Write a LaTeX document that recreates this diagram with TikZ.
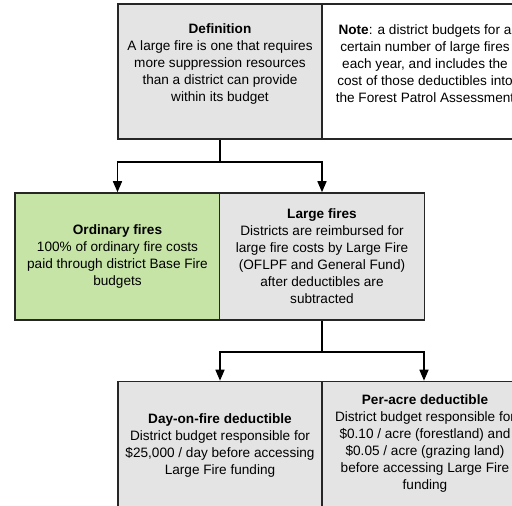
\documentclass[tikz,border=0pt]{standalone}
\usepackage{fontspec}
\setmainfont{Liberation Sans}
\usetikzlibrary{arrows.meta}

\definecolor{boxgray}{RGB}{228,228,228}
\definecolor{boxgreen}{RGB}{197,228,166}

\begin{document}
\begin{tikzpicture}[x=1pt,y=-1pt,
    box/.style={draw=black!85,line width=1.6pt,minimum width=204pt,minimum height=127pt,inner sep=0pt},
    txt/.style={align=center,font=\fontsize{13.6}{17}\selectfont,inner sep=0pt},
    conn/.style={line width=1.6pt,-{Triangle[width=9pt,length=11pt]}}]
  \useasboundingbox (0,0) rectangle (512,506);
  \clip (0,0) rectangle (512,506);

  % top row
  \node[box,fill=boxgray,minimum height=135pt] (def) at (220,71.5) {};
  \node[box,fill=white,minimum height=135pt] (note) at (424,71.5) {};
  \node[txt] (deftxt) at (220,64) {\textbf{Definition}\\A large fire is one that requires\\more suppression resources\\than a district can provide\\within its budget};
  \node[txt] (notetxt) at (425,64) {\textbf{Note}: a district budgets for a\\certain number of large fires\\each year, and includes the\\cost of those deductibles into\\the Forest Patrol Assessment};

  % middle row
  \node[box,fill=boxgreen,minimum width=205pt] (ord) at (117.5,256.5) {};
  \node[box,fill=boxgray,minimum width=205pt] (large) at (322,256.5) {};
  \node[txt] (ordtxt) at (ord.center) {\textbf{Ordinary fires}\\100\% of ordinary fire costs\\paid through district Base Fire\\budgets};
  \node[txt] (largetxt) at (large.center) {\textbf{Large fires}\\Districts are reimbursed for\\large fire costs by Large Fire\\(OFLPF and General Fund)\\after deductibles are\\subtracted};

  % bottom row
  \node[box,fill=boxgray] (day) at (220,445) {};
  \node[box,fill=boxgray] (acre) at (424,445) {};
  \node[txt] (daytxt) at (220,445) {\textbf{Day-on-fire deductible}\\District budget responsible for\\\$25,000 / day before accessing\\Large Fire funding};
  \node[txt] (acretxt) at (425,443) {\textbf{Per-acre deductible}\\District budget responsible for\\\$0.10 / acre (forestland) and\\\$0.05 / acre (grazing land)\\before accessing Large Fire\\funding};

  % connectors
  \draw[conn] (def.south) -- ++(0,22) -| (ord.north);
  \draw[conn] (def.south) -- ++(0,22) -| (large.north);
  \draw[conn] (large.south) -- ++(0,31) -| (day.north);
  \draw[conn] (large.south) -- ++(0,31) -| (acre.north);
\end{tikzpicture}
\end{document}
